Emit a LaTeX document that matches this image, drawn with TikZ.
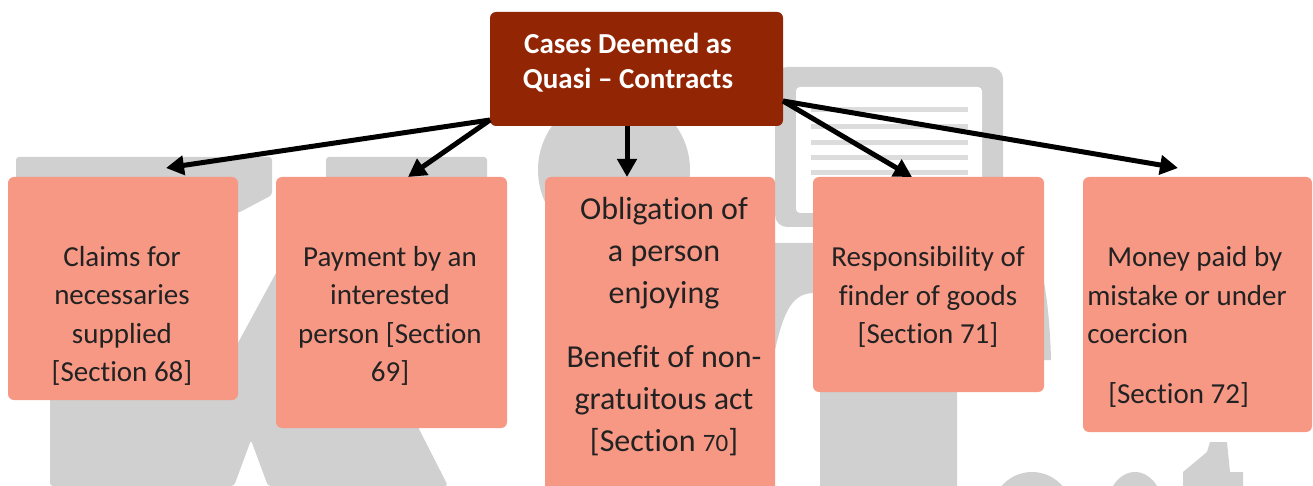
\documentclass[tikz,border=0pt]{standalone}
\usepackage{fontspec}
\setmainfont{Carlito}[Ligatures=CommonOff]
\usetikzlibrary{arrows.meta}
\definecolor{wm}{HTML}{D0D0D0}
\definecolor{wl}{HTML}{DCDCDC}
\definecolor{salmon}{HTML}{F79885}
\definecolor{rust}{HTML}{922503}
\definecolor{ink}{HTML}{222222}
\tikzset{
  x=1pt,y=-1pt,
  wmark/.style={fill=wm,draw=none},
  wline/.style={draw=wl,line width=5pt},
  caseframe/.style={fill=salmon,draw=none,rounded corners=6pt},
  titleframe/.style={fill=rust,draw=none,rounded corners=6pt},
  caselabel/.style={inner sep=0pt,text=ink,font=\fontsize{29}{38.5}\selectfont},
  titlelabel/.style={inner sep=0pt,text=white,align=center,font=\fontsize{29}{34.5}\selectfont\bfseries},
  link/.style={draw=black,line width=5pt,-{Triangle[length=18pt,width=19pt]}},
}
\begin{document}
\begin{tikzpicture}
\useasboundingbox (0,0) rectangle (1313,486);
\fill[white] (0,0) rectangle (1313,486);
% watermark
\fill[wmark,rounded corners=3pt] (16,157) -- (272,157) -- (272,195) -- (238,213) -- (220,213) -- (220,376) -- (276,273) -- (326,181) -- (326,157) -- (487,157) -- (487,190) -- (400,300) -- (418,427) -- (448,486) -- (268,486) -- (251,440) -- (234,486) -- (50,486) -- (50,190) -- (16,190) -- cycle;
\fill[wmark] (614,170) circle (76);
\fill[wmark,rounded corners=12pt] (775,67) rectangle (1003,227);
\fill[white,rounded corners=4pt] (796,87) rectangle (982,213);
\foreach \yy in {110,127,143,158,173} \draw[wline] (811,\yy) -- (968,\yy);
\fill[wmark] (740,243) -- (1030,243) .. controls (1045,260) and (1050,320) .. (1051,360) -- (957,360) -- (957,486) -- (820,486) -- (820,380) -- (830,293) -- (815,293) .. controls (795,293) and (785,305) .. (775,350) -- (740,350) -- cycle;
\fill[wmark] (1032,512) ellipse (40 and 40);
\fill[wmark] (1135,512) ellipse (29 and 40);
\fill[wmark] (1183,486) -- (1183,472) -- (1207,452) -- (1210,442) -- (1227,442) -- (1230,472) -- (1243,472) -- (1243,486) -- cycle;
% boxes
\path[titleframe] (490,12) rectangle (783,126);
\node[titlelabel] (ttext) at (628,62.5) {Cases Deemed as\\Quasi -- Contracts};
\path[caseframe] (8,177) rectangle (238,400);
\path[caseframe] (276,177) rectangle (507,428);
\path[caseframe] (545,177) rectangle (775,492);
\path[caseframe] (813,177) rectangle (1044,392);
\path[caseframe] (1083,177) rectangle (1312,432);
\node[caselabel,align=center] (c1) at (122,316) {Claims for\\necessaries\\supplied\\{[Section 68]}};
\node[caselabel,align=center] (c2) at (390,316) {Payment by an\\interested\\person [Section\\69]};
\node[caselabel,align=center,font=\fontsize{32}{42}\selectfont] (c3) at (664,327) {Obligation of\\a person\\enjoying\\[22pt]Benefit of non-\\gratuitous act\\{[Section {\fontsize{25}{42}\selectfont 70}]}};
\node[caselabel,align=center] (c4) at (928,297) {Responsibility of\\finder of goods\\{[Section 71]}};
\node[caselabel,align=left] (c5) at (1187,327) {\hspace*{20pt}Money paid by\\mistake or under\\coercion\\[21pt]\hspace*{21pt}{[Section 72]}};
% connector anchors
\coordinate (tw) at (490,120);
\coordinate (te) at (783,101);
\coordinate (ts) at (627,126);
\coordinate (e1) at (166,168);
\coordinate (e2) at (408,177);
\coordinate (e3) at (627,177);
\coordinate (e4) at (912,177);
\coordinate (e5) at (1178,168);
\draw[link] (tw) -- (e1);
\draw[link] (tw) -- (e2);
\draw[link] (ts) -- (e3);
\draw[link] (te) -- (e4);
\draw[link] (te) -- (e5);
\end{tikzpicture}
\end{document}
